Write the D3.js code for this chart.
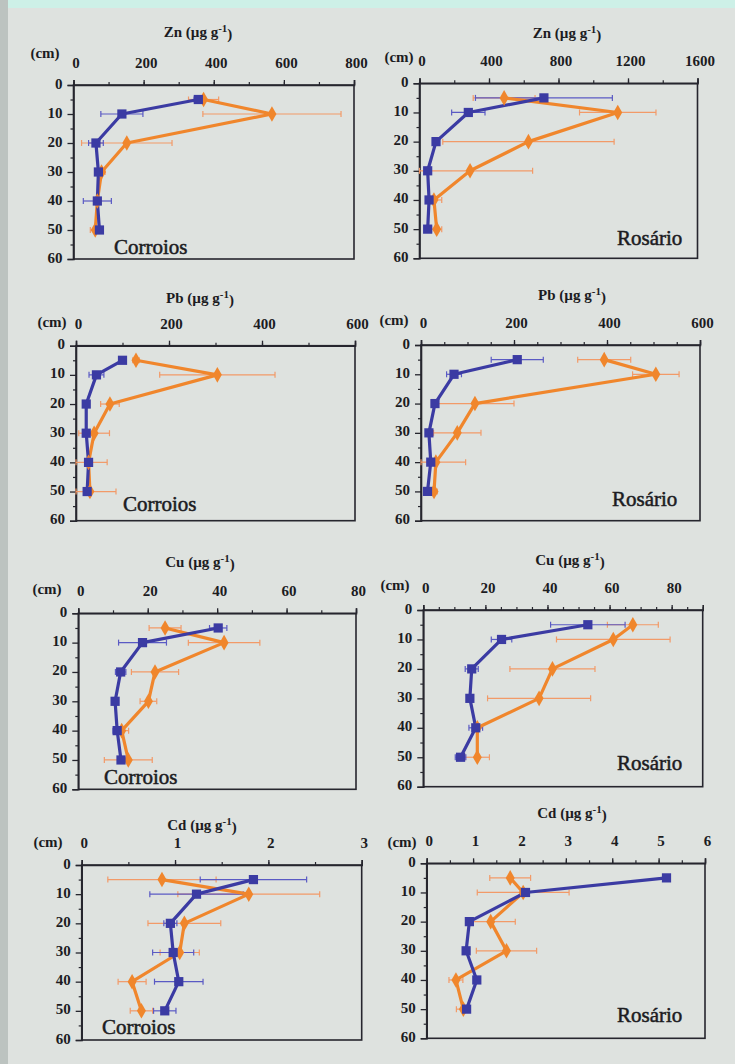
<!DOCTYPE html>
<html><head><meta charset="utf-8">
<script src="https://cdn.jsdelivr.net/npm/d3@7"></script>
<style>
html,body{margin:0;padding:0;background:#dee2df;}
svg{display:block;}
</style></head><body>
<svg id="chart" width="735" height="1064"></svg>
<script>
// Sampling depths (cm) and depth-axis ticks
const depths = [5, 10, 20, 30, 40, 50];
const depthTicks = [0, 10, 20, 30, 40, 50, 60];
const sites = ["Corroios", "Rosário"];
const elements = ["Zn", "Pb", "Cu", "Cd"];

// Concentration-axis ticks per panel
const znCorroiosTicks = [0, 200, 400, 600, 800];
const znRosarioTicks = [0, 400, 800, 1200, 1600];
const pbCorroiosTicks = [0, 200, 400, 600];
const pbRosarioTicks = [0, 200, 400, 600];
const cuCorroiosTicks = [0, 20, 40, 60, 80];
const cuRosarioTicks = [0, 20, 40, 60, 80];
const cdCorroiosTicks = [0, 1, 2, 3];
const cdRosarioTicks = [0, 1, 2, 3, 4, 5, 6];

// Zn (µg g-1): mean and standard deviation by depth, series A (squares) and B (diamonds)
const znCorroiosA = [356, 138, 64, 71, 68, 74];
const znCorroiosASd = [12, 60, 21, 0, 40, 0];
const znCorroiosB = [371, 566, 152, 80, 68, 62];
const znCorroiosBSd = [43, 197, 129, 10, 0, 14];
const znRosarioA = [716, 281, 95, 47, 55, 47];
const znRosarioASd = [394, 96, 0, 0, 0, 0];
const znRosarioB = [487, 1141, 627, 291, 83, 99];
const znRosarioBSd = [178, 220, 493, 360, 45, 29];

// Pb (µg g-1)
const pbCorroiosA = [100, 44, 22, 22, 27, 24];
const pbCorroiosASd = [0, 16, 0, 0, 0, 0];
const pbCorroiosB = [129, 304, 73, 39, 27, 30];
const pbCorroiosBSd = [7, 124, 20, 33, 40, 56];
const pbRosarioA = [207, 71, 30, 17, 21, 14];
const pbRosarioASd = [56, 16, 5, 0, 0, 0];
const pbRosarioB = [394, 505, 116, 78, 32, 28];
const pbRosarioBSd = [57, 50, 84, 51, 64, 7];

// Cu (µg g-1)
const cuCorroiosA = [40.3, 18.5, 12.2, 10.6, 11.2, 12.3];
const cuCorroiosASd = [2.5, 6.9, 1.5, 0, 1.2, 0];
const cuCorroiosB = [25.0, 42.0, 22.1, 20.2, 12.5, 14.4];
const cuCorroiosBSd = [4.6, 10.3, 6.8, 2.4, 2.0, 6.9];
const cuRosarioA = [53.0, 25.2, 15.6, 15.0, 16.9, 12.0];
const cuRosarioASd = [12.0, 3.3, 2.1, 0, 2.2, 1.7];
const cuRosarioB = [67.5, 61.2, 41.6, 37.3, 17.4, 17.4];
const cuRosarioBSd = [8.2, 18.3, 13.7, 16.6, 0, 3.9];

// Cd (µg g-1)
const cdCorroiosA = [1.84, 1.23, 0.95, 0.98, 1.04, 0.89];
const cdCorroiosASd = [0.57, 0.50, 0.07, 0.22, 0.26, 0.12];
const cdCorroiosB = [0.86, 1.79, 1.10, 1.05, 0.54, 0.64];
const cdCorroiosBSd = [0.58, 0.76, 0.39, 0.21, 0.15, 0.12];
const cdRosarioA = [5.17, 2.13, 0.92, 0.85, 1.08, 0.86];
const cdRosarioASd = [0, 0.05, 0.05, 0, 0, 0];
const cdRosarioB = [1.80, 2.08, 1.38, 1.72, 0.63, 0.79];
const cdRosarioBSd = [0.44, 0.99, 0.53, 0.65, 0.15, 0.15];

// Panel table built from the arrays above
const panels = [
  {el: elements[0], site: sites[0], ticks: znCorroiosTicks, max: 800, minor: 100, a: znCorroiosA, aSd: znCorroiosASd, b: znCorroiosB, bSd: znCorroiosBSd},
  {el: elements[0], site: sites[1], ticks: znRosarioTicks, max: 1600, minor: 200, a: znRosarioA, aSd: znRosarioASd, b: znRosarioB, bSd: znRosarioBSd},
  {el: elements[1], site: sites[0], ticks: pbCorroiosTicks, max: 600, minor: 100, a: pbCorroiosA, aSd: pbCorroiosASd, b: pbCorroiosB, bSd: pbCorroiosBSd},
  {el: elements[1], site: sites[1], ticks: pbRosarioTicks, max: 600, minor: 50, a: pbRosarioA, aSd: pbRosarioASd, b: pbRosarioB, bSd: pbRosarioBSd},
  {el: elements[2], site: sites[0], ticks: cuCorroiosTicks, max: 80, minor: 10, a: cuCorroiosA, aSd: cuCorroiosASd, b: cuCorroiosB, bSd: cuCorroiosBSd},
  {el: elements[2], site: sites[1], ticks: cuRosarioTicks, max: 90, minor: 5, a: cuRosarioA, aSd: cuRosarioASd, b: cuRosarioB, bSd: cuRosarioBSd},
  {el: elements[3], site: sites[0], ticks: cdCorroiosTicks, max: 3, minor: 0.5, a: cdCorroiosA, aSd: cdCorroiosASd, b: cdCorroiosB, bSd: cdCorroiosBSd},
  {el: elements[3], site: sites[1], ticks: cdRosarioTicks, max: 6, minor: 0.5, a: cdRosarioA, aSd: cdRosarioASd, b: cdRosarioB, bSd: cdRosarioBSd}
];

// Page placement of each panel: plot box, title centre, "(cm)" centre, site label start
const layout = [
  {x: 73.5, y: 85, w: 280.5, h: 174, titleX: 198, titleY: 32, cmX: 45, cmY: 53, siteX: 114, siteY: 247},
  {x: 419.5, y: 83.3, w: 278, h: 175, titleX: 567, titleY: 33, cmX: 399, cmY: 57, siteX: 617, siteY: 238},
  {x: 76, y: 345.7, w: 279, h: 175, titleX: 200, titleY: 298, cmX: 52, cmY: 322, siteX: 123, siteY: 504},
  {x: 421, y: 345, w: 279, h: 175.7, titleX: 572, titleY: 295, cmX: 394, cmY: 320, siteX: 612, siteY: 499},
  {x: 78.3, y: 613.3, w: 277.7, h: 176, titleX: 200, titleY: 562, cmX: 47, cmY: 589, siteX: 104, siteY: 777},
  {x: 423.3, y: 610, w: 279.4, h: 176.7, titleX: 570, titleY: 560, cmX: 395, cmY: 585, siteX: 617, siteY: 763},
  {x: 81.7, y: 865, w: 280, h: 175, titleX: 202, titleY: 825, cmX: 48, cmY: 842, siteX: 102, siteY: 1027},
  {x: 426.7, y: 863.3, w: 278.3, h: 175, titleX: 572, titleY: 813, cmX: 402, cmY: 842, siteX: 617, siteY: 1015}
];

const serif = "'Liberation Serif', 'Times New Roman', Times, 'DejaVu Serif', serif";
const colA = "#3b3ba3", colAErr = "#5a5ac4";
const colB = "#f0862c", colBErr = "#f29a68";
const ink = "#26262e";
const textInk = "#1c1c1f";

const svg = d3.select("#chart").style("font-family", serif);

// slide background with the coloured border strips
svg.append("rect").attr("width", 735).attr("height", 1064).attr("fill", "#dee2df");
svg.append("rect").attr("x", 0).attr("y", 0).attr("width", 735).attr("height", 8).attr("fill", "#cdf0e7");
svg.append("rect").attr("x", 0).attr("y", 0).attr("width", 8).attr("height", 1064).attr("fill", "#bcc3c0");

function styleText(sel, size, weight) {
  return sel.attr("font-family", serif).style("font-family", serif)
    .style("font-size", size + "px").style("font-weight", weight).attr("fill", textInk);
}

panels.forEach((p, i) => {
  const L = layout[i];
  const g = svg.append("g").attr("transform", `translate(${L.x},${L.y})`);
  const x = d3.scaleLinear().domain([0, p.max]).range([0, L.w]);
  const y = d3.scaleLinear().domain([0, 60]).range([0, L.h]);

  // plot frame
  g.append("rect").attr("width", L.w).attr("height", L.h)
    .attr("fill", "none").attr("stroke", ink).attr("stroke-width", 1.6);

  // top concentration axis: minor then major ticks
  const minorVals = d3.range(0, p.max + 1e-9, p.minor);
  g.append("g").call(d3.axisTop(x).tickValues(minorVals).tickSize(3).tickFormat(""))
    .call(a => a.select(".domain").remove())
    .selectAll("line").attr("stroke", ink).attr("stroke-width", 1.2);
  const ax = g.append("g").call(d3.axisTop(x).tickValues(p.ticks).tickSize(5).tickPadding(12)
      .tickFormat(d3.format("d")));
  ax.attr("font-family", serif);
  ax.select(".domain").attr("stroke", ink).attr("stroke-width", 1.6);
  ax.selectAll("line").attr("stroke", ink).attr("stroke-width", 1.3);
  styleText(ax.selectAll("text"), 15, "bold").attr("dx", 2);

  // left depth axis
  g.append("g").call(d3.axisLeft(y).tickValues(d3.range(5, 60, 10)).tickSize(3).tickFormat(""))
    .call(a => a.select(".domain").remove())
    .selectAll("line").attr("stroke", ink).attr("stroke-width", 1.2);
  const ay = g.append("g").call(d3.axisLeft(y).tickValues(depthTicks).tickSize(6).tickPadding(5)
      .tickFormat(d3.format("d")));
  ay.attr("font-family", serif);
  ay.select(".domain").attr("stroke", ink).attr("stroke-width", 1.6);
  ay.selectAll("line").attr("stroke", ink).attr("stroke-width", 1.3);
  styleText(ay.selectAll("text"), 15, "bold").attr("dy", "0.2em");

  // axis titles
  const t = styleText(svg.append("text").attr("x", L.titleX).attr("y", L.titleY).attr("dy", "0.35em")
    .attr("text-anchor", "middle"), 15, "bold");
  t.append("tspan").text(`${p.el} (µg g`);
  t.append("tspan").attr("dy", "-0.45em").style("font-size", "11px").text("-1");
  t.append("tspan").attr("dy", "0.45em").text(")");
  styleText(svg.append("text").attr("x", L.cmX).attr("y", L.cmY).attr("dy", "0.35em")
    .attr("text-anchor", "middle"), 15, "bold").text("(cm)");

  // site name (slightly heavier than regular weight)
  styleText(svg.append("text").attr("x", L.siteX).attr("y", L.siteY).attr("dy", "0.35em"), 21, "normal")
    .attr("stroke", textInk).attr("stroke-width", 0.5)
    .text(p.site);

  const series = [
    {v: p.b, sd: p.bSd, col: colB, err: colBErr, shape: d3.symbolDiamond, size: 70},
    {v: p.a, sd: p.aSd, col: colA, err: colAErr, shape: d3.symbolSquare, size: 85}
  ];

  // error bars (mean ± SD), clipped to the axis range
  series.forEach(s => {
    const eg = g.append("g").attr("stroke", s.err).attr("stroke-width", 1.2).attr("fill", "none");
    depths.forEach((d, k) => {
      if (!s.sd[k]) return;
      const lo = x(Math.max(0, s.v[k] - s.sd[k]));
      const hi = x(Math.min(p.max, s.v[k] + s.sd[k]));
      const yy = y(d);
      eg.append("line").attr("x1", lo).attr("x2", hi).attr("y1", yy).attr("y2", yy);
      eg.append("line").attr("x1", lo).attr("x2", lo).attr("y1", yy - 3).attr("y2", yy + 3);
      eg.append("line").attr("x1", hi).attr("x2", hi).attr("y1", yy - 3).attr("y2", yy + 3);
    });
  });

  // profile lines
  const line = d3.line().x(d => x(d[0])).y(d => y(d[1]));
  series.forEach(s => {
    g.append("path").datum(depths.map((d, k) => [s.v[k], d]))
      .attr("d", line).attr("fill", "none").attr("stroke", s.col)
      .attr("stroke-width", 3.2).attr("stroke-linejoin", "round");
  });

  // markers
  series.forEach(s => {
    g.append("g").selectAll("path").data(depths.map((d, k) => [s.v[k], d])).join("path")
      .attr("transform", d => `translate(${x(d[0])},${y(d[1])})`)
      .attr("d", d3.symbol().type(s.shape).size(s.size))
      .attr("fill", s.col);
  });
});
</script>
</body></html>
